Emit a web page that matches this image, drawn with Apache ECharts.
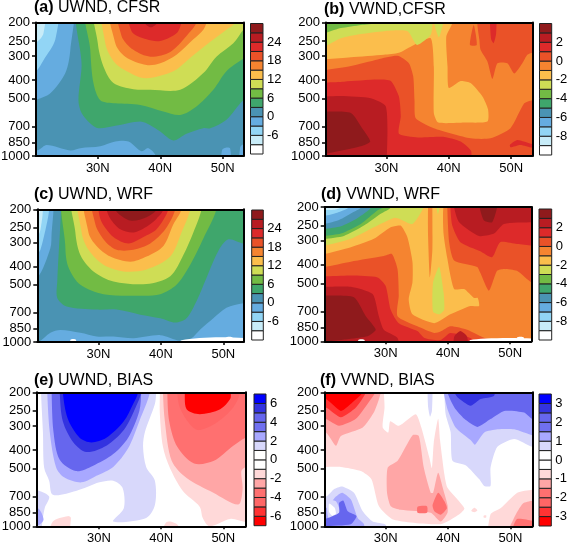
<!DOCTYPE html>
<html><head><meta charset="utf-8">
<style>html,body{margin:0;padding:0;background:#fff}#c{width:567px;height:546px}</style>
<script src="https://cdn.jsdelivr.net/npm/echarts@6/dist/echarts.min.js"></script>
</head><body><div id="c"></div>
<script>
const pressureTicks=[200,250,300,400,500,700,850,1000];
const latTicks=[30,40,50];
const windColors=['#ffffff','#c8ecf8','#92d5f5','#65ace0','#4a93b3','#3fa66c','#72bb44','#cfdd55','#fbbe4c','#f58430','#ea5228','#dd2a2a','#b81c22','#8f1a1c'];
const biasColors=['#ff0000','#ff3333','#ff6666','#ff7070','#ffa6a6','#ffd9d9','#ffffff','#ffffff','#d8d8fb','#a8a8ff','#7070f0','#6666ee','#3333e0','#0000ff'];
const uLabels=[-6,0,6,12,18,24];
const vLabels=[-8,-6,-4,-2,0,2];
const uBiasLabels=[-6,-4,-2,0,2,4,6];
const vBiasLabels=[-3,-2,-1,0,1,2,3];

// Filled contour regions: [colour class, [[latitude, hPa], ...]]
const contoursA=[
[3,[[19,150],[25.8,150],[25.6,278],[24.8,368],[22.4,470],[20.3,505],[19,510]]],
[2,[[19,150],[23.5,150],[23.2,245],[21.3,315],[20.1,360],[19,365]]],
[1,[[19,150],[21.6,150],[21.3,228],[20.3,252],[19,255]]],
[3,[[19,950],[20.5,930],[21.8,875],[25.6,935],[27.2,910],[30.4,890],[32.8,840],[34.9,840],[37,945],[38.1,910],[39.4,1010],[39.4,1200],[19,1200]]],
[3,[[49.8,1200],[49.9,930],[50.5,905],[51.2,915],[51.2,1200]]],
[3,[[52.8,1200],[52.8,900],[53.3,870],[55,870],[55,1200]]],
[5,[[27.4,150],[27.4,340],[26.9,510],[27.4,595],[28.8,675],[30.1,715],[32.8,695],[36.8,660],[38.4,690],[40,745],[42.1,830],[44.2,765],[46.9,715],[48,715],[50.6,645],[53.3,510],[55,480],[55,150]]],
[6,[[28.5,150],[28.8,280],[29.3,415],[30.4,510],[32.8,530],[36.8,540],[40.5,585],[43.2,610],[45.8,550],[48.5,450],[50.6,360],[53.3,310],[55,290],[55,150]]],
[7,[[29.8,150],[30,257],[30.9,340],[32.5,415],[35.7,447],[38.4,450],[43.2,450],[46.9,368],[49,302],[51.7,257],[53.3,218],[55,190],[55,150]]],
[8,[[31.2,150],[31.2,257],[32.8,327],[35.7,375],[37.8,392],[42.1,360],[45,302],[47.7,257],[50.6,218],[52,200],[53,150]]],
[9,[[32.2,150],[32.8,257],[34.4,302],[37.8,334],[40,327],[42.6,295],[45.3,245],[46.9,218],[47.4,200],[48,150]]],
[10,[[33.3,150],[33.8,235],[35.7,278],[38.4,302],[41.6,285],[44.2,235],[45.8,200],[46.3,150]]],
[11,[[34.9,150],[35.4,222],[37.8,245],[40,250],[42.6,228],[43.4,200],[44,150]]],
[12,[[37.3,150],[37.5,200],[38.5,212],[39.5,200],[39.8,150]]]
];
const contoursB=[
[10,[[20,355],[24.3,338],[28.6,312],[31.8,299],[33.6,327],[34.3,384],[34.5,510],[34.7,635],[37.6,715],[43.5,808],[46.7,808],[49.9,715],[52.1,530],[53.4,510],[56,490],[56,1200],[18,1200],[18,355]]],
[10,[[44.6,206],[44.9,245],[45.1,278],[46.2,320],[47,395],[47.8,327],[49.4,327],[50.5,370],[51.8,327],[52.6,295],[53.4,288],[56,280],[56,150],[44.6,150]]],
[10,[[43.4,262],[44,206],[44.5,262]]],
[11,[[46.6,150],[46.6,200],[46.8,245],[47.2,257],[47.6,228],[47.6,150]]],
[8,[[20,312],[24.3,304],[29.6,295],[32,288],[34.4,262],[37.1,242],[37.6,340],[37.6,595],[38.3,668],[42.5,668],[46.2,660],[46.3,570],[45.4,488],[43.5,415],[41.9,405],[40,440],[39.8,340],[39.6,237],[40.6,200],[40.6,150],[18,150],[18,312]]],
[7,[[18,275],[20,268],[22.7,242],[25.9,230],[29.6,222],[33.4,222],[34.9,262],[37.1,232],[37.4,200],[37.4,150],[18,150]]],
[7,[[37.4,180],[38.4,239],[39.3,180]]],
[6,[[18,235],[20,228],[22.7,214],[25.9,206],[28.3,200],[29,150],[18,150]]],
[11,[[20,412],[23.2,408],[28.6,398],[30.7,405],[32,488],[32.3,620],[32,765],[35,800],[39.3,795],[41.9,840],[43.6,945],[43,1200],[18,1200],[18,412]]],
[11,[[49.8,875],[51,825],[53.4,865],[56,870],[56,915],[53.4,905],[51.5,875],[49.9,900]]],
[12,[[18,488],[20,488],[22.7,485],[27.5,498],[29.9,550],[30.1,910],[29.5,1200],[18,1200]]],
[13,[[18,585],[20,585],[24.3,595],[26.1,715],[27.4,840],[25.9,890],[20.5,970],[18,990]]]
];
const contoursC=[
[3,[[18,475],[20.2,460],[22.3,320],[22.5,265],[22.8,200],[22.8,150],[18,150]]],
[2,[[18,350],[20.2,342],[20.7,327],[21.7,240],[22.1,200],[22.1,150],[18,150]]],
[1,[[18,285],[20.3,275],[20.9,233],[21.1,200],[21.1,150],[18,150]]],
[0,[[18,225],[20.4,215],[20.5,150],[18,150]]],
[3,[[18,1200],[18,1050],[20.4,1000],[22.3,895],[23.9,865],[27.1,895],[29.7,935],[32.4,935],[35.6,955],[39.9,920],[43.1,985],[44.9,955],[46.3,860],[48.4,750],[50.5,660],[53.2,625],[56,620],[56,1200]]],
[5,[[24,150],[24,200],[23.4,480],[23.4,586],[24.9,650],[29.7,675],[32.9,675],[36.7,718],[39.9,750],[42.3,790],[44.1,750],[45.7,610],[47.3,460],[49.2,332],[50.8,288],[53.2,303],[56,310],[56,150]]],
[6,[[18,780],[20.5,860],[18,940]]],
[6,[[25,150],[24.7,320],[25.2,405],[27.1,500],[30.8,560],[36.7,570],[39.9,560],[42.5,500],[44.7,392],[46.8,285],[48.9,200],[49,150]]],
[7,[[26.1,150],[26.3,265],[27.1,348],[29.2,425],[32.4,480],[37.7,495],[41.5,450],[43.6,348],[45.2,265],[46.5,200],[46.6,150]]],
[8,[[27.1,150],[27.3,265],[28.4,327],[30.8,392],[34,425],[37.7,415],[41.5,355],[43.3,265],[44.7,200],[44.8,150]]],
[9,[[28,150],[28.4,265],[29.7,312],[31.9,355],[35.1,378],[37.7,355],[40.4,312],[42,240],[43.3,200],[43.4,150]]],
[10,[[29.1,150],[29.5,240],[31.1,296],[32.9,327],[35.6,327],[38.3,303],[40.7,255],[42.3,200],[42.4,150]]],
[11,[[30,150],[30,200],[30.5,233],[32.4,280],[34.8,303],[37.2,280],[39.3,255],[41.2,200],[41.3,150]]],
[12,[[31.3,150],[31.3,200],[31.9,224],[33.5,255],[35.6,265],[37.7,247],[39.3,224],[40.4,200],[40.4,150]]],
[13,[[32.7,150],[32.7,200],[33.5,215],[35.3,230],[37.7,220],[39.3,200],[39.3,150]]],
[0,[[25.5,1200],[25.5,975],[26.4,975],[26.4,1200]]],
[0,[[43.3,1200],[43.3,980],[56,980],[56,1200]]],
[0,[[50.4,1200],[50.4,950],[51.5,950],[51.5,1200]]]
];
const contoursD=[
[10,[[18,415],[20.2,410],[24.4,385],[29.7,360],[31,351],[31.9,420],[32.1,578],[31.9,740],[35.1,835],[37.8,905],[38.8,890],[40.4,835],[43.1,870],[46.3,970],[53.3,1000],[56,1000],[56,1200],[18,1200]]],
[10,[[39.9,150],[39.9,200],[40.2,305],[41,380],[44.7,410],[45.2,440],[46.6,545],[47.9,430],[49,420],[51.1,430],[53.5,495],[56,495],[56,150]]],
[11,[[40.4,150],[40.4,200],[40.7,250],[42,305],[45.2,340],[47.1,365],[48.4,305],[51.1,312],[53.5,318],[56,318],[56,150]]],
[12,[[41,150],[41,200],[41.8,240],[45,283],[47.4,275],[49,245],[53.5,240],[56,240],[56,150]]],
[13,[[45.1,150],[45.1,200],[45.8,235],[47.1,240],[47.9,200],[47.9,150]]],
[8,[[18,351],[20.2,351],[24.4,324],[28.1,293],[30.8,255],[32.4,250],[33.5,288],[34.3,385],[34.3,495],[33.7,605],[34.3,724],[37.8,805],[40.4,724],[43.6,655],[45,655],[44.8,595],[44.2,595],[42.6,535],[41,535],[39.9,370],[39.3,275],[39.3,200],[41,150],[18,150]]],
[9,[[36.8,150],[36.8,200],[36.8,275],[37.1,465],[37.5,335],[37.5,200],[37.5,150]]],
[7,[[18,320],[20.2,318],[24.4,293],[28.1,255],[31.3,228],[32.4,232],[34.3,245],[36.1,200],[36.2,150],[18,150]]],
[7,[[37.6,700],[37.6,500],[38.6,410],[39.3,555],[39.4,685],[38.6,724]]],
[7,[[38,180],[38.4,218],[38.8,180]]],
[6,[[18,295],[20.2,293],[23.3,283],[26.5,250],[29.2,217],[30.9,200],[31.2,150],[18,150]]],
[5,[[18,285],[20.2,283],[22.8,275],[26,245],[28.7,208],[29.7,200],[30,150],[18,150]]],
[4,[[18,262],[20.2,260],[22.8,252],[25.5,228],[27.7,200],[27.9,150],[18,150]]],
[3,[[18,247],[20.2,245],[22.5,234],[24.9,212],[26.1,200],[26.2,150],[18,150]]],
[2,[[18,224],[20.2,222],[22.2,214],[24.1,200],[24.2,150],[18,150]]],
[1,[[18,210],[20.2,208],[21.7,207],[22.8,200],[22.9,150],[18,150]]],
[11,[[18,460],[20.2,460],[24.4,455],[28.7,465],[30,515],[30.8,685],[32.1,805],[35.1,885],[36.2,960],[38.8,985],[40.4,905],[43.6,960],[44.4,1020],[44.4,1200],[18,1200]]],
[12,[[18,520],[20.2,520],[24.4,520],[27.9,568],[28.9,740],[29.7,870],[31.9,960],[32.2,1200],[18,1200]]],
[12,[[41,1200],[41,950],[42,885],[43.1,950],[43.1,1200]]],
[13,[[18,578],[20.2,578],[24.9,590],[26.8,740],[28.4,870],[27.1,940],[20.6,1000],[18,1010]]],
[0,[[43.6,1200],[43.6,985],[56,985],[56,1200]]],
[0,[[51.1,1200],[51.1,955],[52.2,955],[52.2,1200]]],
[0,[[25.6,1200],[25.6,985],[26.6,985],[26.6,1200]]]
];
const contoursE=[
[8,[[20.7,150],[20.7,200],[21,322],[21.2,495],[22,578],[22.6,685],[26.3,655],[30.1,590],[32.3,578],[33.8,630],[34,805],[32.3,945],[37.6,905],[39,775],[39,578],[37.6,490],[37.1,385],[37.4,322],[39,230],[39.2,200],[39.2,150]]],
[8,[[18,640],[20.2,650],[22,700],[21.3,800],[20.9,950],[20.5,1200],[18,1200]]],
[9,[[18,800],[20.2,805],[21.1,920],[20.3,985],[18,1000]]],
[9,[[21.7,150],[21.7,200],[22.1,322],[23.1,490],[24.4,555],[27.2,590],[29.6,545],[32.3,490],[34.7,392],[36.5,283],[38.2,200],[38.2,150]]],
[11,[[22.4,150],[22.4,200],[22.7,322],[23.7,450],[26.3,515],[29,484],[32.3,420],[34.7,345],[36.5,250],[36.8,200],[36.8,150]]],
[12,[[23.7,150],[23.7,200],[24.2,283],[25.9,365],[28,410],[31.2,380],[34,315],[35.9,240],[36.8,200],[36.8,150]]],
[13,[[24.2,150],[24.2,200],[25,275],[26.9,345],[28.8,365],[31.2,345],[34,283],[35.5,230],[36.3,200],[36.3,150]]],
[5,[[39.8,150],[39.8,200],[39.8,260],[40.3,385],[41.4,495],[43.5,655],[46.2,790],[46.7,905],[47.8,1000],[51.1,915],[53.6,950],[56,950],[56,150]]],
[5,[[22,1200],[22.6,945],[25,885],[25.5,905],[24.7,1200]]],
[5,[[39.8,1200],[40.9,950],[42.7,985],[43,1200]]],
[4,[[40.3,150],[40.3,200],[40.6,283],[41.7,455],[44.1,560],[48.4,668],[52.4,770],[53.1,640],[52.9,515],[53.6,490],[56,470],[56,150]]],
[3,[[41,150],[41,200],[41.3,283],[42.6,385],[45.3,470],[48.5,455],[51.6,380],[53.6,345],[56,330],[56,150]]],
[2,[[42.6,150],[42.6,200],[43,240],[44.6,293],[46,315],[48.9,288],[51.6,240],[52.7,200],[52.8,150]]],
[0,[[43.8,150],[43.8,200],[44.1,245],[46.2,260],[49.5,245],[51.1,217],[51.2,200],[51.2,150]]]
];
const contoursF=[
[5,[[29.7,150],[29.7,200],[29.8,240],[29.5,305],[30.4,324],[30.7,283],[32.1,299],[34.8,260],[35.7,305],[37,440],[37.4,497],[37.7,365],[38.4,275],[38.7,355],[39.4,537],[39.9,630],[42.6,805],[41.8,865],[38.8,975],[31.3,925],[28.9,785],[27.7,568],[26,515],[22.8,490],[20.2,490],[18,490],[18,150]]],
[5,[[46.6,1200],[46.8,865],[48.4,805],[51.1,668],[53.5,645],[56,640],[56,1200]]],
[5,[[43.7,830],[44.2,800],[44.7,825],[44.2,845]]],
[5,[[45.7,880],[46.1,875],[46.1,900],[45.7,900]]],
[4,[[18,320],[20.4,324],[22,380],[22.8,338],[26.3,305],[28.2,250],[29.2,200],[29.3,150],[18,150]]],
[4,[[30.3,495],[31.9,455],[34.3,335],[35.3,338],[36.1,495],[37.2,668],[37.6,668],[38.4,525],[39.2,640],[39.9,775],[39.9,850],[38.8,945],[37.2,850],[32.4,820],[30.8,785],[30.2,668]]],
[4,[[49.2,1200],[50.6,900],[52,760],[53.5,735],[56,730],[56,1200]]],
[3,[[18,270],[20.4,276],[22.5,299],[25.2,275],[27.4,222],[28.3,200],[28.4,150],[18,150]]],
[3,[[35.1,790],[36.6,785],[36.6,850],[35.1,850]]],
[3,[[38.4,668],[39.4,740],[39.8,805],[38.8,870],[37.8,835],[37.5,775]]],
[3,[[50,1200],[51,920],[53.5,935],[56,950],[56,1200]]],
[1,[[18,235],[20.4,240],[22.8,270],[25.2,240],[26.8,200],[26.9,150],[18,150]]],
[0,[[18,215],[20.4,217],[22.8,250],[24.9,222],[26.3,200],[26.4,150],[18,150]]],
[8,[[18,712],[20.4,700],[21.7,640],[23,620],[24.9,668],[26.3,835],[27.9,945],[30,985],[30,1200],[18,1200]]],
[9,[[18,805],[20.4,805],[22,700],[23,668],[24.4,724],[25.5,905],[26.5,975],[26.5,1200],[18,1200]]],
[8,[[20.6,730],[22,740],[22.6,830],[21.9,915],[20.8,905]]],
[6,[[20.9,760],[21.8,800],[22,860],[21.4,880],[20.9,840]]],
[11,[[18,925],[20.2,915],[22.5,850],[22.5,755],[23.2,735],[23.9,835],[25.3,885],[24.4,975],[20.2,1000],[18,1040]]],
[8,[[36.7,150],[36.7,200],[36.8,240],[37.1,268],[37.4,250],[37.5,200],[37.5,150]]],
[8,[[39.4,150],[39.4,200],[39.6,260],[40.4,322],[40.7,455],[42.8,480],[45,568],[45.8,616],[46.8,616],[46.8,495],[47.9,385],[50.6,350],[53.5,385],[56,395],[56,150]]],
[9,[[39.3,150],[39.3,200],[39.9,245],[41.2,305],[43.6,355],[44.3,375],[45.8,324],[47.9,312],[50.6,312],[53.5,335],[56,340],[56,150]]],
[11,[[39.9,150],[39.9,200],[41,240],[42.6,275],[44.7,303],[46.8,276],[49,250],[52.2,255],[53.5,276],[56,285],[56,150]]],
[12,[[41,150],[41,200],[41.5,212],[43.6,235],[45.2,217],[47.4,208],[47.5,150]]]
];

const T={name:'Liberation Sans',c:'#000'};
const panels=[
 {id:'(a)',name:' UWND, CFSR',regions:contoursA,bg:4,pal:windColors,grid:[36,243.3,22.5,156],lat:[20.1,53.3],bar:[250.5,263,23.5,154],ticks:uLabels,range:[-12,30],step:3,tx:34,ty:9},
 {id:'(b)',name:' VWND,CFSR',regions:contoursB,bg:9,pal:windColors,grid:[326,532.3,22.5,156],lat:[20.3,53.4],bar:[539.5,551.7,23.5,155],ticks:vLabels,range:[-10,4],step:1,tx:324,ty:11},
 {id:'(c)',name:' UWND, WRF',regions:contoursC,bg:4,pal:windColors,grid:[37.3,243.3,209.3,342],lat:[20.2,53.2],bar:[251.7,263.3,210,340],ticks:uLabels,range:[-12,30],step:3,tx:34,ty:196},
 {id:'(d)',name:' VWND, WRF',regions:contoursD,bg:9,pal:windColors,grid:[324.7,531.3,207,341.3],lat:[20.2,53.4],bar:[539,551.7,209,340],ticks:vLabels,range:[-10,4],step:1,tx:321,ty:196},
 {id:'(e)',name:' UWND, BIAS',regions:contoursE,bg:6,pal:biasColors,grid:[36.7,245.7,392.3,526.3],lat:[20,53.6],bar:[254,266,394,525.7],ticks:uBiasLabels,range:[-7,7],step:1,tx:34,ty:382},
 {id:'(f)',name:' VWND, BIAS',regions:contoursF,bg:6,pal:biasColors,grid:[324.7,532.3,392.3,526.3],lat:[20.2,53.5],bar:[539,551.3,394,526],ticks:vBiasLabels,range:[-3.5,3.5],step:.5,tx:320,ty:382}
];
const W=567,H=546,FS=13;
const opt={animation:false,backgroundColor:'#fff',title:[],grid:[],xAxis:[],yAxis:[],series:[]};
panels.forEach((P,k)=>{
 const g=P.grid,b=P.bar,gi=k*2,bi=k*2+1;
 opt.title.push({left:P.tx,top:P.ty-9,padding:0,text:'{b|'+P.id+'}{n|'+P.name+'}',textStyle:{fontWeight:'normal',rich:{b:{fontFamily:T.name,fontSize:16,fontWeight:'bold',color:'#000'},n:{fontFamily:T.name,fontSize:16,fontWeight:'normal',color:'#000'}}}});
 opt.grid.push({left:g[0],width:g[1]-g[0],top:g[2],height:g[3]-g[2],show:false,containLabel:false,outerBoundsMode:'none'});
 opt.grid.push({left:b[0],width:b[1]-b[0],top:b[2],height:b[3]-b[2],show:false,outerBoundsMode:'none'});
 opt.xAxis.push({gridIndex:gi,type:'value',min:P.lat[0],max:P.lat[1],z:5,splitLine:{show:false},axisLine:{show:true,onZero:false,lineStyle:{color:'#000',width:2}},
  axisTick:{show:true,length:3,inside:false,customValues:latTicks,lineStyle:{color:'#000',width:1.5}},
  axisLabel:{customValues:latTicks,formatter:v=>v+'N',hideOverlap:false,fontFamily:T.name,fontSize:FS,color:'#000',margin:6}});
 opt.xAxis.push({gridIndex:gi,type:'value',position:'top',min:P.lat[0],max:P.lat[1],z:5,splitLine:{show:false},axisLine:{show:true,onZero:false,lineStyle:{color:'#000',width:2}},axisTick:{show:false},axisLabel:{show:false}});
 opt.yAxis.push({gridIndex:gi,type:'log',logBase:10,inverse:true,min:200,max:1000,z:5,splitLine:{show:false},minorTick:{show:false},axisLine:{show:true,onZero:false,lineStyle:{color:'#000',width:2}},
  axisTick:{show:true,length:4,customValues:pressureTicks,lineStyle:{color:'#000',width:1.5}},
  axisLabel:{customValues:pressureTicks,formatter:v=>String(Math.round(v)),hideOverlap:false,showMinLabel:true,showMaxLabel:true,fontFamily:T.name,fontSize:FS,color:'#000',margin:6}});
 opt.yAxis.push({gridIndex:gi,type:'log',logBase:10,inverse:true,position:'right',min:200,max:1000,z:5,splitLine:{show:false},axisLine:{show:true,onZero:false,lineStyle:{color:'#000',width:2}},axisTick:{show:false},axisLabel:{show:false}});
 const xi=k*3,yi=k*3;
 const regs=[[P.bg,[[18,150],[56,150],[56,1200],[18,1200]]]].concat(P.regions);
 const smooth=(k%2===0)?0.3:0.2;
 opt.series.push({type:'custom',xAxisIndex:xi,yAxisIndex:yi,coordinateSystem:'cartesian2d',clip:true,z:2,silent:true,
  data:regs.map((r,i)=>[r[1][0][0],r[1][0][1],i]),encode:{x:0,y:1},
  renderItem:(params,api)=>{const r=regs[api.value(2)];
   return {type:'polygon',shape:{points:r[1].map(pt=>api.coord(pt)),smooth:r===regs[0]?0:smooth},style:{fill:P.pal[r[0]]}};}});
 opt.xAxis.push({gridIndex:bi,type:'value',min:0,max:1,show:false});
 const ax={gridIndex:bi,type:'value',position:'right',min:P.range[0],max:P.range[1],z:5,splitLine:{show:false},
  axisLine:{show:false},axisTick:{show:false},
  axisLabel:{customValues:P.ticks,hideOverlap:false,fontFamily:T.name,fontSize:FS,color:'#000',margin:4}};
 opt.yAxis.push(ax);
 const cells=P.pal.map((c,i)=>[0,P.range[0]+i*P.step,i]);
 opt.series.push({type:'custom',xAxisIndex:xi+2,yAxisIndex:yi+2,coordinateSystem:'cartesian2d',clip:false,silent:true,z:2,
  data:cells,encode:{x:0,y:1},
  renderItem:(params,api)=>{const i=api.value(2),lo=api.value(1);
   const a=api.coord([0,lo+P.step]),c=api.coord([1,lo]);
   return {type:'rect',shape:{x:a[0],y:a[1],width:c[0]-a[0],height:c[1]-a[1]},style:{fill:P.pal[i],stroke:'#222',lineWidth:1}};}});
});
const chart=echarts.init(document.getElementById('c'),null,{renderer:'canvas',width:W,height:H});
chart.setOption(opt);
</script></body></html>
